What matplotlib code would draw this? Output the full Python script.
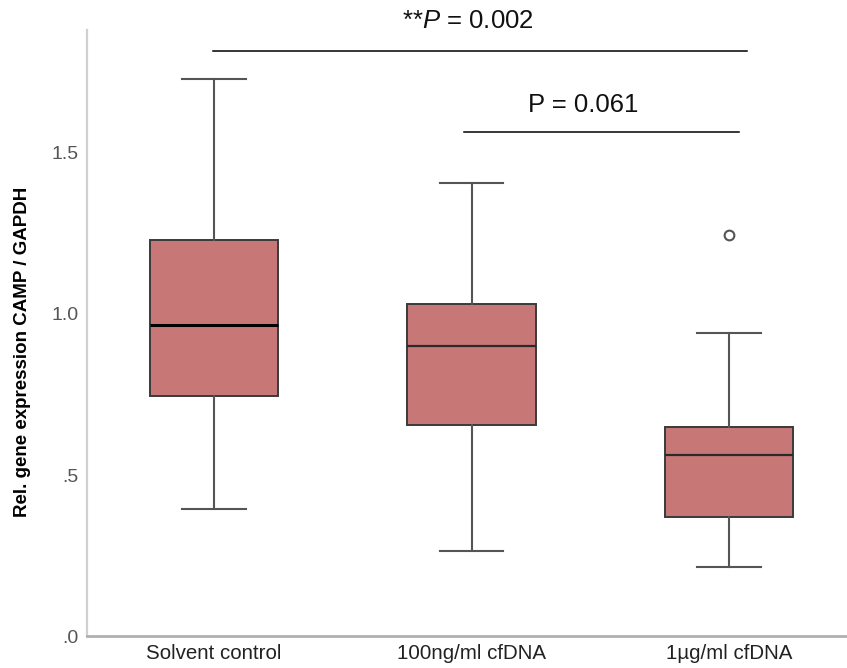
import matplotlib
matplotlib.use("Agg")
import matplotlib.pyplot as plt
from matplotlib import font_manager

# CAMP / GAPDH expression summary per treatment group
groups = ["Solvent control", "100ng/ml cfDNA", "1\u00b5g/ml cfDNA"]
whisker_low = [0.394, 0.263, 0.214]
q1 = [0.745, 0.655, 0.370]
median = [0.966, 0.900, 0.562]
q3 = [1.230, 1.031, 0.649]
whisker_high = [1.730, 1.407, 0.941]
outliers = [[], [], [1.245]]

# significance brackets: (left group, right group, label)
comparisons = [(1, 3, "**$\\mathit{P}$ = 0.002"), (2, 3, "P = 0.061")]
bracket_y = [1.817, 1.565]

names = {f.name for f in font_manager.fontManager.ttflist}
narrow = "Liberation Sans Narrow" if "Liberation Sans Narrow" in names else "Liberation Sans"

plt.rcParams["font.family"] = ["Liberation Sans", "DejaVu Sans"]
plt.rcParams["mathtext.fontset"] = "custom"
plt.rcParams["mathtext.it"] = "Liberation Sans:italic"
plt.rcParams["mathtext.rm"] = "Liberation Sans"

fig = plt.figure(figsize=(8.47, 6.68), dpi=100)
ax = fig.add_axes([0.1027, 0.0479, 0.8973, 0.9072])

stats = []
for i, g in enumerate(groups):
    stats.append({
        "label": g, "med": median[i], "q1": q1[i], "q3": q3[i],
        "whislo": whisker_low[i], "whishi": whisker_high[i],
        "fliers": outliers[i],
    })

box_color = "#c87777"
bp = ax.bxp(
    stats, positions=[1, 2, 3], widths=0.5, patch_artist=True,
    showfliers=True,
    boxprops=dict(facecolor=box_color, edgecolor="#3a3a3a", linewidth=1.4),
    medianprops=dict(color="#2a2a2a", linewidth=1.6),
    whiskerprops=dict(color="#555555", linewidth=1.5),
    capprops=dict(color="#555555", linewidth=1.5),
    flierprops=dict(marker="o", markersize=7, markerfacecolor="white",
                    markeredgecolor="#555555", markeredgewidth=1.5),
    capwidths=0.245,
)
bp["medians"][0].set_color("black")
bp["medians"][0].set_linewidth(2.2)

for (a, b, label), y in zip(comparisons, bracket_y):
    x0 = a - 0.005 if a == 1 else a - 0.03
    x1 = b + 0.07 if a == 1 else b + 0.04
    ax.plot([x0, x1], [y, y], color="black", linewidth=1.1, clip_on=False)

ax.text(1.987, 1.911, comparisons[0][2], ha="center", va="center",
        fontsize=18.5, color="#111111", clip_on=False)
ax.text(2.435, 1.648, comparisons[1][2], ha="center", va="center",
        fontsize=18.5, color="#111111")

ax.set_xlim(0.507, 3.458)
ax.set_ylim(0, 1.882)
ax.set_yticks([0, 0.5, 1.0, 1.5])
ax.set_yticklabels([".0", ".5", "1.0", "1.5"])
ax.set_xticks([1, 2, 3])
ax.set_xticklabels(groups, family=narrow, fontsize=14.8, color="#222222")

for lab in ax.get_yticklabels():
    lab.set_color("#555555")
    lab.set_fontsize(14)
ax.tick_params(axis="y", length=0, pad=6)
ax.tick_params(axis="x", length=0, pad=6)

ax.set_ylabel("Rel. gene expression CAMP / GAPDH", family=narrow,
              fontweight="bold", fontsize=13.5, color="black")
ax.yaxis.set_label_coords(-0.074, 0.469)

for side in ["top", "right"]:
    ax.spines[side].set_visible(False)
ax.spines["left"].set_color("#d0d0d0")
ax.spines["left"].set_linewidth(1.6)
ax.spines["bottom"].set_color("#b0b0b0")
ax.spines["bottom"].set_linewidth(2.0)

fig.savefig("out.png", dpi=100)
